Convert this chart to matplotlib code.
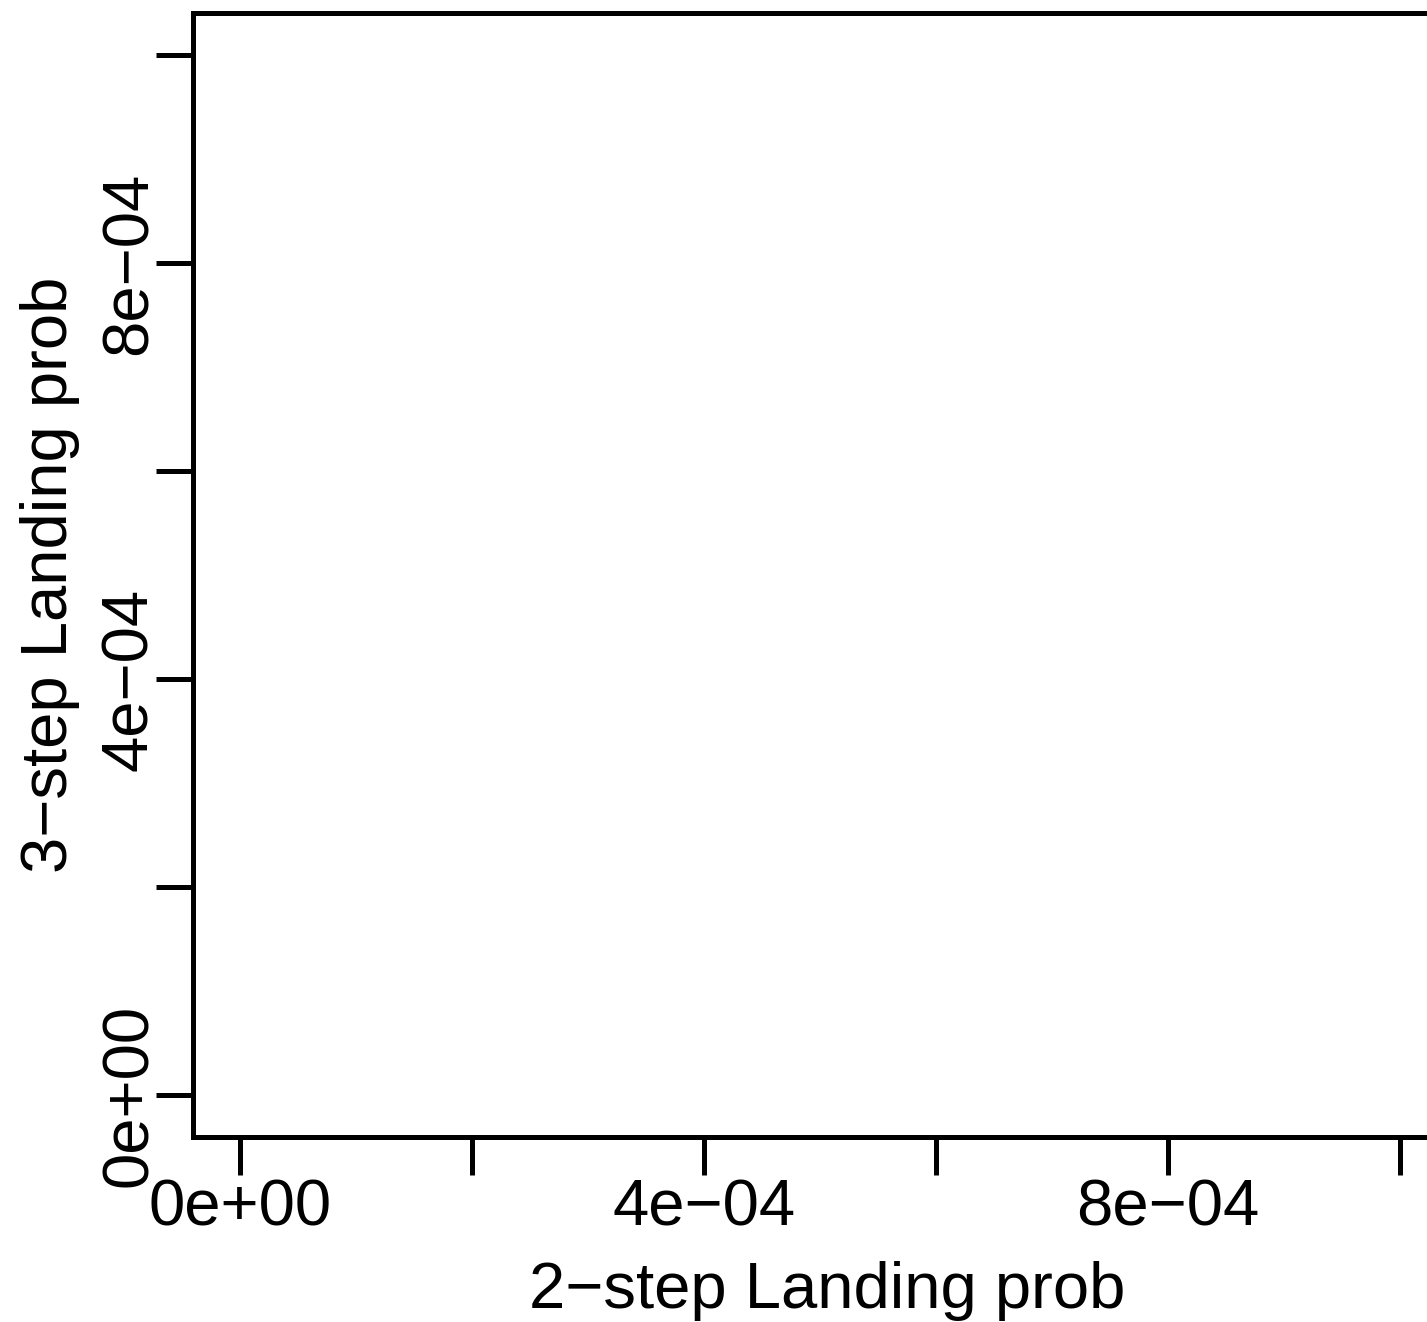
import matplotlib
matplotlib.use("Agg")
import matplotlib.pyplot as plt

# Data (plot is empty in the reference)
x_values = []
y_values = []
x_ticks = [0, 2e-4, 4e-4, 6e-4, 8e-4, 1e-3]
x_tick_labels = ["0e+00", "", "4e\u221204", "", "8e\u221204", ""]
y_ticks = [0, 2e-4, 4e-4, 6e-4, 8e-4, 1e-3]
y_tick_labels = ["0e+00", "", "4e\u221204", "", "8e\u221204", ""]
x_label = "2\u2212step Landing prob"
y_label = "3\u2212step Landing prob"

plt.rcParams['font.family'] = ['Liberation Sans', 'DejaVu Sans']

W, H = 1427, 1322
fig = plt.figure(figsize=(W / 100, H / 100), dpi=100)
left, right, top, bottom = 193, 1462, 13, 1137
ax = fig.add_axes([left / W, (H - bottom) / H, (right - left) / W, (bottom - top) / H])

ax.plot(x_values, y_values, 'o', color='black')

ax.set_xlim(-4.05e-5, 1.0534e-3)
ax.set_ylim(-4.04e-5, 1.0404e-3)

ax.set_xticks(x_ticks, x_tick_labels)
ax.set_yticks(y_ticks, y_tick_labels)

for s in ax.spines.values():
    s.set_linewidth(3.6)
    s.set_color('black')

ax.tick_params(axis='both', direction='out', length=27, width=3.6, labelsize=47, color='black')
ax.tick_params(axis='x', pad=3)
ax.tick_params(axis='y', pad=-3)
for lbl in ax.get_yticklabels():
    lbl.set_rotation(90)
    lbl.set_va('center')
    lbl.set_ha('right')

ax.set_xlabel(x_label, fontsize=47, labelpad=16)
ax.set_ylabel(y_label, fontsize=47, labelpad=14)

fig.savefig("out.png", dpi=100)
